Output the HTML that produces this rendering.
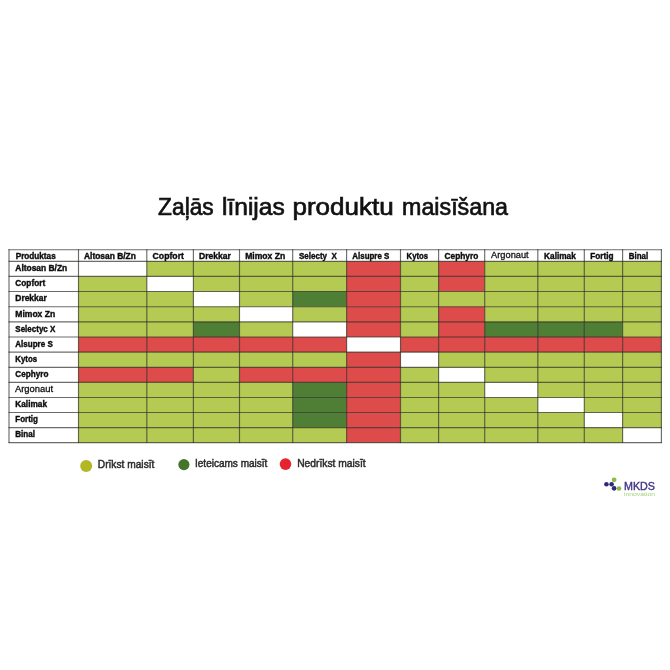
<!DOCTYPE html>
<html lang="lv">
<head>
<meta charset="utf-8">
<title>Zaļās līnijas produktu maisīšana</title>
<style>
html,body{margin:0;padding:0;background:#fff;}
body{width:670px;height:670px;overflow:hidden;position:relative;font-family:"Liberation Sans",sans-serif;}
svg{position:absolute;left:0;top:0;display:block;filter:blur(0.45px);}
text{font-family:"Liberation Sans",sans-serif;}
.b{font-weight:700;font-size:9.1px;fill:#0c0c0c;stroke:#0c0c0c;stroke-width:0.4px;}
.r{font-weight:400;font-size:9.3px;fill:#111;stroke:#111;stroke-width:0.3px;}
.title{font-size:24.8px;fill:#111;stroke:#111;stroke-width:0.7px;}
.lg{font-size:10.3px;fill:#2a2a2a;stroke:#2a2a2a;stroke-width:0.45px;}
</style>
</head>
<body>
<svg width="670" height="670" viewBox="0 0 670 670">
<rect x="0" y="0" width="670" height="670" fill="#ffffff"/>
<text class="title" y="214.6"><tspan x="158.1" textLength="55.6" lengthAdjust="spacingAndGlyphs">Zaļās</tspan> <tspan x="222.0" textLength="62.7" lengthAdjust="spacingAndGlyphs">līnijas</tspan> <tspan x="292.5" textLength="101.2" lengthAdjust="spacingAndGlyphs">produktu</tspan> <tspan x="402.1" textLength="105.9" lengthAdjust="spacingAndGlyphs">maisīšana</tspan></text>
<g shape-rendering="geometricPrecision">
<rect x="146.8" y="261.3" width="46.6" height="15.1" fill="#b4ca52"/>
<rect x="193.4" y="261.3" width="46.1" height="15.1" fill="#b4ca52"/>
<rect x="239.5" y="261.3" width="53.2" height="15.1" fill="#b4ca52"/>
<rect x="292.7" y="261.3" width="53.9" height="15.1" fill="#b4ca52"/>
<rect x="346.6" y="261.3" width="53.9" height="15.1" fill="#dd4b4a"/>
<rect x="400.5" y="261.3" width="38.1" height="15.1" fill="#b4ca52"/>
<rect x="438.6" y="261.3" width="46.1" height="15.1" fill="#dd4b4a"/>
<rect x="484.7" y="261.3" width="53.1" height="15.1" fill="#b4ca52"/>
<rect x="537.8" y="261.3" width="46.5" height="15.1" fill="#b4ca52"/>
<rect x="584.3" y="261.3" width="38.3" height="15.1" fill="#b4ca52"/>
<rect x="622.6" y="261.3" width="38.8" height="15.1" fill="#b4ca52"/>
<rect x="78.5" y="276.4" width="68.3" height="15.1" fill="#b4ca52"/>
<rect x="193.4" y="276.4" width="46.1" height="15.1" fill="#b4ca52"/>
<rect x="239.5" y="276.4" width="53.2" height="15.1" fill="#b4ca52"/>
<rect x="292.7" y="276.4" width="53.9" height="15.1" fill="#b4ca52"/>
<rect x="346.6" y="276.4" width="53.9" height="15.1" fill="#dd4b4a"/>
<rect x="400.5" y="276.4" width="38.1" height="15.1" fill="#b4ca52"/>
<rect x="438.6" y="276.4" width="46.1" height="15.1" fill="#dd4b4a"/>
<rect x="484.7" y="276.4" width="53.1" height="15.1" fill="#b4ca52"/>
<rect x="537.8" y="276.4" width="46.5" height="15.1" fill="#b4ca52"/>
<rect x="584.3" y="276.4" width="38.3" height="15.1" fill="#b4ca52"/>
<rect x="622.6" y="276.4" width="38.8" height="15.1" fill="#b4ca52"/>
<rect x="78.5" y="291.5" width="68.3" height="15.2" fill="#b4ca52"/>
<rect x="146.8" y="291.5" width="46.6" height="15.2" fill="#b4ca52"/>
<rect x="239.5" y="291.5" width="53.2" height="15.2" fill="#b4ca52"/>
<rect x="292.7" y="291.5" width="53.9" height="15.2" fill="#4f7f35"/>
<rect x="346.6" y="291.5" width="53.9" height="15.2" fill="#dd4b4a"/>
<rect x="400.5" y="291.5" width="38.1" height="15.2" fill="#b4ca52"/>
<rect x="438.6" y="291.5" width="46.1" height="15.2" fill="#b4ca52"/>
<rect x="484.7" y="291.5" width="53.1" height="15.2" fill="#b4ca52"/>
<rect x="537.8" y="291.5" width="46.5" height="15.2" fill="#b4ca52"/>
<rect x="584.3" y="291.5" width="38.3" height="15.2" fill="#b4ca52"/>
<rect x="622.6" y="291.5" width="38.8" height="15.2" fill="#b4ca52"/>
<rect x="78.5" y="306.7" width="68.3" height="15.2" fill="#b4ca52"/>
<rect x="146.8" y="306.7" width="46.6" height="15.2" fill="#b4ca52"/>
<rect x="193.4" y="306.7" width="46.1" height="15.2" fill="#b4ca52"/>
<rect x="292.7" y="306.7" width="53.9" height="15.2" fill="#b4ca52"/>
<rect x="346.6" y="306.7" width="53.9" height="15.2" fill="#dd4b4a"/>
<rect x="400.5" y="306.7" width="38.1" height="15.2" fill="#b4ca52"/>
<rect x="438.6" y="306.7" width="46.1" height="15.2" fill="#dd4b4a"/>
<rect x="484.7" y="306.7" width="53.1" height="15.2" fill="#b4ca52"/>
<rect x="537.8" y="306.7" width="46.5" height="15.2" fill="#b4ca52"/>
<rect x="584.3" y="306.7" width="38.3" height="15.2" fill="#b4ca52"/>
<rect x="622.6" y="306.7" width="38.8" height="15.2" fill="#b4ca52"/>
<rect x="78.5" y="321.9" width="68.3" height="15.1" fill="#b4ca52"/>
<rect x="146.8" y="321.9" width="46.6" height="15.1" fill="#b4ca52"/>
<rect x="193.4" y="321.9" width="46.1" height="15.1" fill="#4f7f35"/>
<rect x="239.5" y="321.9" width="53.2" height="15.1" fill="#b4ca52"/>
<rect x="346.6" y="321.9" width="53.9" height="15.1" fill="#dd4b4a"/>
<rect x="400.5" y="321.9" width="38.1" height="15.1" fill="#b4ca52"/>
<rect x="438.6" y="321.9" width="46.1" height="15.1" fill="#dd4b4a"/>
<rect x="484.7" y="321.9" width="53.1" height="15.1" fill="#4f7f35"/>
<rect x="537.8" y="321.9" width="46.5" height="15.1" fill="#4f7f35"/>
<rect x="584.3" y="321.9" width="38.3" height="15.1" fill="#4f7f35"/>
<rect x="622.6" y="321.9" width="38.8" height="15.1" fill="#b4ca52"/>
<rect x="78.5" y="337.0" width="68.3" height="15.1" fill="#dd4b4a"/>
<rect x="146.8" y="337.0" width="46.6" height="15.1" fill="#dd4b4a"/>
<rect x="193.4" y="337.0" width="46.1" height="15.1" fill="#dd4b4a"/>
<rect x="239.5" y="337.0" width="53.2" height="15.1" fill="#dd4b4a"/>
<rect x="292.7" y="337.0" width="53.9" height="15.1" fill="#dd4b4a"/>
<rect x="400.5" y="337.0" width="38.1" height="15.1" fill="#dd4b4a"/>
<rect x="438.6" y="337.0" width="46.1" height="15.1" fill="#dd4b4a"/>
<rect x="484.7" y="337.0" width="53.1" height="15.1" fill="#dd4b4a"/>
<rect x="537.8" y="337.0" width="46.5" height="15.1" fill="#dd4b4a"/>
<rect x="584.3" y="337.0" width="38.3" height="15.1" fill="#dd4b4a"/>
<rect x="622.6" y="337.0" width="38.8" height="15.1" fill="#dd4b4a"/>
<rect x="78.5" y="352.1" width="68.3" height="15.2" fill="#b4ca52"/>
<rect x="146.8" y="352.1" width="46.6" height="15.2" fill="#b4ca52"/>
<rect x="193.4" y="352.1" width="46.1" height="15.2" fill="#b4ca52"/>
<rect x="239.5" y="352.1" width="53.2" height="15.2" fill="#b4ca52"/>
<rect x="292.7" y="352.1" width="53.9" height="15.2" fill="#b4ca52"/>
<rect x="346.6" y="352.1" width="53.9" height="15.2" fill="#dd4b4a"/>
<rect x="438.6" y="352.1" width="46.1" height="15.2" fill="#b4ca52"/>
<rect x="484.7" y="352.1" width="53.1" height="15.2" fill="#b4ca52"/>
<rect x="537.8" y="352.1" width="46.5" height="15.2" fill="#b4ca52"/>
<rect x="584.3" y="352.1" width="38.3" height="15.2" fill="#b4ca52"/>
<rect x="622.6" y="352.1" width="38.8" height="15.2" fill="#b4ca52"/>
<rect x="78.5" y="367.3" width="68.3" height="15.1" fill="#dd4b4a"/>
<rect x="146.8" y="367.3" width="46.6" height="15.1" fill="#dd4b4a"/>
<rect x="193.4" y="367.3" width="46.1" height="15.1" fill="#b4ca52"/>
<rect x="239.5" y="367.3" width="53.2" height="15.1" fill="#dd4b4a"/>
<rect x="292.7" y="367.3" width="53.9" height="15.1" fill="#dd4b4a"/>
<rect x="346.6" y="367.3" width="53.9" height="15.1" fill="#dd4b4a"/>
<rect x="400.5" y="367.3" width="38.1" height="15.1" fill="#b4ca52"/>
<rect x="484.7" y="367.3" width="53.1" height="15.1" fill="#b4ca52"/>
<rect x="537.8" y="367.3" width="46.5" height="15.1" fill="#b4ca52"/>
<rect x="584.3" y="367.3" width="38.3" height="15.1" fill="#b4ca52"/>
<rect x="622.6" y="367.3" width="38.8" height="15.1" fill="#b4ca52"/>
<rect x="78.5" y="382.4" width="68.3" height="15.1" fill="#b4ca52"/>
<rect x="146.8" y="382.4" width="46.6" height="15.1" fill="#b4ca52"/>
<rect x="193.4" y="382.4" width="46.1" height="15.1" fill="#b4ca52"/>
<rect x="239.5" y="382.4" width="53.2" height="15.1" fill="#b4ca52"/>
<rect x="292.7" y="382.4" width="53.9" height="15.1" fill="#4f7f35"/>
<rect x="346.6" y="382.4" width="53.9" height="15.1" fill="#dd4b4a"/>
<rect x="400.5" y="382.4" width="38.1" height="15.1" fill="#b4ca52"/>
<rect x="438.6" y="382.4" width="46.1" height="15.1" fill="#b4ca52"/>
<rect x="537.8" y="382.4" width="46.5" height="15.1" fill="#b4ca52"/>
<rect x="584.3" y="382.4" width="38.3" height="15.1" fill="#b4ca52"/>
<rect x="622.6" y="382.4" width="38.8" height="15.1" fill="#b4ca52"/>
<rect x="78.5" y="397.5" width="68.3" height="15.0" fill="#b4ca52"/>
<rect x="146.8" y="397.5" width="46.6" height="15.0" fill="#b4ca52"/>
<rect x="193.4" y="397.5" width="46.1" height="15.0" fill="#b4ca52"/>
<rect x="239.5" y="397.5" width="53.2" height="15.0" fill="#b4ca52"/>
<rect x="292.7" y="397.5" width="53.9" height="15.0" fill="#4f7f35"/>
<rect x="346.6" y="397.5" width="53.9" height="15.0" fill="#dd4b4a"/>
<rect x="400.5" y="397.5" width="38.1" height="15.0" fill="#b4ca52"/>
<rect x="438.6" y="397.5" width="46.1" height="15.0" fill="#b4ca52"/>
<rect x="484.7" y="397.5" width="53.1" height="15.0" fill="#b4ca52"/>
<rect x="584.3" y="397.5" width="38.3" height="15.0" fill="#b4ca52"/>
<rect x="622.6" y="397.5" width="38.8" height="15.0" fill="#b4ca52"/>
<rect x="78.5" y="412.5" width="68.3" height="15.1" fill="#b4ca52"/>
<rect x="146.8" y="412.5" width="46.6" height="15.1" fill="#b4ca52"/>
<rect x="193.4" y="412.5" width="46.1" height="15.1" fill="#b4ca52"/>
<rect x="239.5" y="412.5" width="53.2" height="15.1" fill="#b4ca52"/>
<rect x="292.7" y="412.5" width="53.9" height="15.1" fill="#4f7f35"/>
<rect x="346.6" y="412.5" width="53.9" height="15.1" fill="#dd4b4a"/>
<rect x="400.5" y="412.5" width="38.1" height="15.1" fill="#b4ca52"/>
<rect x="438.6" y="412.5" width="46.1" height="15.1" fill="#b4ca52"/>
<rect x="484.7" y="412.5" width="53.1" height="15.1" fill="#b4ca52"/>
<rect x="537.8" y="412.5" width="46.5" height="15.1" fill="#b4ca52"/>
<rect x="622.6" y="412.5" width="38.8" height="15.1" fill="#b4ca52"/>
<rect x="78.5" y="427.6" width="68.3" height="15.0" fill="#b4ca52"/>
<rect x="146.8" y="427.6" width="46.6" height="15.0" fill="#b4ca52"/>
<rect x="193.4" y="427.6" width="46.1" height="15.0" fill="#b4ca52"/>
<rect x="239.5" y="427.6" width="53.2" height="15.0" fill="#b4ca52"/>
<rect x="292.7" y="427.6" width="53.9" height="15.0" fill="#b4ca52"/>
<rect x="346.6" y="427.6" width="53.9" height="15.0" fill="#dd4b4a"/>
<rect x="400.5" y="427.6" width="38.1" height="15.0" fill="#b4ca52"/>
<rect x="438.6" y="427.6" width="46.1" height="15.0" fill="#b4ca52"/>
<rect x="484.7" y="427.6" width="53.1" height="15.0" fill="#b4ca52"/>
<rect x="537.8" y="427.6" width="46.5" height="15.0" fill="#b4ca52"/>
<rect x="584.3" y="427.6" width="38.3" height="15.0" fill="#b4ca52"/>
</g>
<g stroke="#262620" stroke-width="1.15" stroke-opacity="0.68" fill="none">
<line x1="9.0" y1="249.2" x2="9.0" y2="443.1"/>
<line x1="78.5" y1="249.2" x2="78.5" y2="443.1"/>
<line x1="146.8" y1="249.2" x2="146.8" y2="443.1"/>
<line x1="193.4" y1="249.2" x2="193.4" y2="443.1"/>
<line x1="239.5" y1="249.2" x2="239.5" y2="443.1"/>
<line x1="292.7" y1="249.2" x2="292.7" y2="443.1"/>
<line x1="346.6" y1="249.2" x2="346.6" y2="443.1"/>
<line x1="400.5" y1="249.2" x2="400.5" y2="443.1"/>
<line x1="438.6" y1="249.2" x2="438.6" y2="443.1"/>
<line x1="484.7" y1="249.2" x2="484.7" y2="443.1"/>
<line x1="537.8" y1="249.2" x2="537.8" y2="443.1"/>
<line x1="584.3" y1="249.2" x2="584.3" y2="443.1"/>
<line x1="622.6" y1="249.2" x2="622.6" y2="443.1"/>
<line x1="661.4" y1="249.2" x2="661.4" y2="443.1"/>
<line x1="8.5" y1="249.7" x2="661.9" y2="249.7"/>
<line x1="8.5" y1="261.3" x2="661.9" y2="261.3"/>
<line x1="8.5" y1="276.4" x2="661.9" y2="276.4"/>
<line x1="8.5" y1="291.5" x2="661.9" y2="291.5"/>
<line x1="8.5" y1="306.7" x2="661.9" y2="306.7"/>
<line x1="8.5" y1="321.9" x2="661.9" y2="321.9"/>
<line x1="8.5" y1="337.0" x2="661.9" y2="337.0"/>
<line x1="8.5" y1="352.1" x2="661.9" y2="352.1"/>
<line x1="8.5" y1="367.3" x2="661.9" y2="367.3"/>
<line x1="8.5" y1="382.4" x2="661.9" y2="382.4"/>
<line x1="8.5" y1="397.5" x2="661.9" y2="397.5"/>
<line x1="8.5" y1="412.5" x2="661.9" y2="412.5"/>
<line x1="8.5" y1="427.6" x2="661.9" y2="427.6"/>
<line x1="8.5" y1="442.6" x2="661.9" y2="442.6"/>
</g>
<text class="b" x="15.7" y="258.5" textLength="40.0" lengthAdjust="spacingAndGlyphs">Produktas</text>
<text class="b" x="84.0" y="258.5" textLength="51.9" lengthAdjust="spacingAndGlyphs">Altosan B/Zn</text>
<text class="b" x="152.6" y="258.5" textLength="31.3" lengthAdjust="spacingAndGlyphs">Copfort</text>
<text class="b" x="199.0" y="258.5" textLength="31.8" lengthAdjust="spacingAndGlyphs">Drekkar</text>
<text class="b" x="245.2" y="258.5" textLength="40.1" lengthAdjust="spacingAndGlyphs">Mimox Zn</text>
<text class="b" x="299.0" y="258.5" textLength="37.9" lengthAdjust="spacingAndGlyphs">Selecty  X</text>
<text class="b" x="352.3" y="258.5" textLength="37.1" lengthAdjust="spacingAndGlyphs">Alsupre S</text>
<text class="b" x="406.6" y="258.5" textLength="21.5" lengthAdjust="spacingAndGlyphs">Kytos</text>
<text class="b" x="444.6" y="258.5" textLength="33.7" lengthAdjust="spacingAndGlyphs">Cephyro</text>
<text class="r" x="491.1" y="258.2" textLength="37.6" lengthAdjust="spacingAndGlyphs">Argonaut</text>
<text class="b" x="544.1" y="258.5" textLength="31.7" lengthAdjust="spacingAndGlyphs">Kalimak</text>
<text class="b" x="590.3" y="258.5" textLength="23.3" lengthAdjust="spacingAndGlyphs">Fortig</text>
<text class="b" x="628.8" y="258.5" textLength="19.4" lengthAdjust="spacingAndGlyphs">Binal</text>
<text class="b" x="15.3" y="271.3" textLength="51.9" lengthAdjust="spacingAndGlyphs">Altosan B/Zn</text>
<text class="b" x="15.3" y="286.4" textLength="29.9" lengthAdjust="spacingAndGlyphs">Copfort</text>
<text class="b" x="15.3" y="301.4" textLength="31.4" lengthAdjust="spacingAndGlyphs">Drekkar</text>
<text class="b" x="15.3" y="316.5" textLength="39.9" lengthAdjust="spacingAndGlyphs">Mimox Zn</text>
<text class="b" x="15.3" y="331.5" textLength="40.1" lengthAdjust="spacingAndGlyphs">Selectyc X</text>
<text class="b" x="15.3" y="346.6" textLength="37.5" lengthAdjust="spacingAndGlyphs">Alsupre S</text>
<text class="b" x="15.3" y="361.6" textLength="21.8" lengthAdjust="spacingAndGlyphs">Kytos</text>
<text class="b" x="15.3" y="376.7" textLength="33.1" lengthAdjust="spacingAndGlyphs">Cephyro</text>
<text class="r" x="14.9" y="391.6" textLength="38.2" lengthAdjust="spacingAndGlyphs">Argonaut</text>
<text class="b" x="15.3" y="406.8" textLength="31.7" lengthAdjust="spacingAndGlyphs">Kalimak</text>
<text class="b" x="15.3" y="421.8" textLength="22.7" lengthAdjust="spacingAndGlyphs">Fortig</text>
<text class="b" x="15.3" y="436.9" textLength="19.7" lengthAdjust="spacingAndGlyphs">Binal</text>
<circle cx="86.2" cy="465.9" r="6" fill="#b3b722"/>
<text class="lg" x="97.8" y="467.9" textLength="56.6" lengthAdjust="spacingAndGlyphs">Drīkst maisīt</text>
<circle cx="183.9" cy="464.6" r="5.6" fill="#46742a"/>
<text class="lg" x="195.0" y="466.9" textLength="72.4" lengthAdjust="spacingAndGlyphs">Ieteicams maisīt</text>
<circle cx="285.5" cy="464.1" r="5.8" fill="#e5242f"/>
<text class="lg" x="297.2" y="466.7" textLength="68.4" lengthAdjust="spacingAndGlyphs">Nedrīkst maisīt</text>
<g>
<circle cx="606.4" cy="484.3" r="2.3" fill="#2f2a7a"/>
<circle cx="611.6" cy="484.3" r="2.3" fill="#2f2a7a"/>
<circle cx="614.1" cy="488.3" r="2.35" fill="#2f2a7a"/>
<circle cx="614.1" cy="479.8" r="2.4" fill="#84c044"/>
<circle cx="619.0" cy="488.5" r="2.3" fill="#84c044"/>
<text x="624" y="489.7" font-size="10.8" fill="#3f3788" stroke="#3f3788" stroke-width="0.4" textLength="31" lengthAdjust="spacingAndGlyphs">MKDS</text>
<text x="624" y="495.7" font-size="4.6" fill="#a5d279" textLength="31" lengthAdjust="spacingAndGlyphs">innovation</text>
</g>
</svg>
</body>
</html>
